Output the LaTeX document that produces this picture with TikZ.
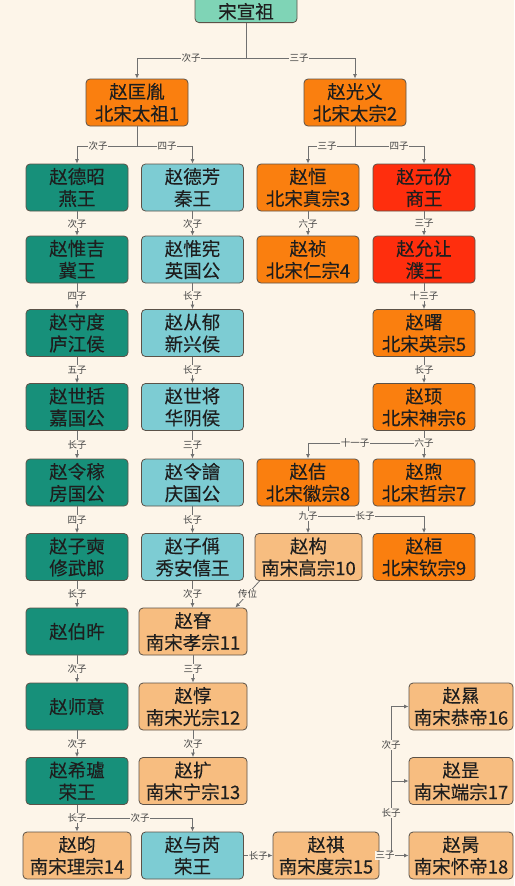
\documentclass[tikz,border=0pt]{standalone}
\usepackage{fontspec}
\newfontfamily\cjk{Noto Sans CJK SC}
\newfontfamily\cjkb[FakeBold=0.15]{Noto Sans CJK SC}
\usetikzlibrary{arrows.meta,calc}
\definecolor{bgc}{HTML}{FDF5E9}
\definecolor{mint}{HTML}{7FD4B6}
\definecolor{teal}{HTML}{17907A}
\definecolor{cyanl}{HTML}{7DCCD3}
\definecolor{orng}{HTML}{FA7F0F}
\definecolor{redd}{HTML}{FF2E0D}
\definecolor{peach}{HTML}{F7BD80}
\definecolor{bordc}{HTML}{5C5248}
\definecolor{txt}{HTML}{1E1E1E}
\definecolor{lnc}{HTML}{707070}
\definecolor{lblc}{HTML}{444444}
\tikzset{
  box/.style={draw=bordc, line width=0.8pt, rounded corners=4pt, minimum width=102pt,
    minimum height=47pt, inner sep=0pt, align=center, text=txt,
    font=\cjkb\fontsize{18.5}{22}\selectfont},
  wide/.style={minimum width=108pt},
  ln/.style={draw=lnc, line width=0.8pt},
  arr/.style={ln, -{Latex[length=4.5pt,width=4pt]}},
  lbl/.style={fill=bgc, inner sep=0.6pt, text=lblc, font=\cjk\fontsize{9.5}{11}\selectfont},
}
\begin{document}
\begin{tikzpicture}[x=1pt,y=-1pt]
\useasboundingbox (0,0) rectangle (514,886);
\fill[bgc] (0,0) rectangle (514,886);
% top
\node[box, fill=mint, anchor=south, text height=44pt, text depth=4pt] (sx) at (246,23) {宋宣祖};
% row 2
\node[box, fill=orng] (tz1) at (137,102.5) {赵匡胤\\北宋太祖1};
\node[box, fill=orng] (tz2) at (355,102.5) {赵光义\\北宋太宗2};
% row 3
\node[box, fill=teal] (dz) at (77,187.5) {赵德昭\\燕王};
\node[box, fill=cyanl] (df) at (192.5,187.5) {赵德芳\\秦王};
\node[box, fill=orng] (hg) at (308,187.5) {赵恒\\北宋真宗3};
\node[box, fill=redd] (yf) at (424,187.5) {赵元份\\商王};
% row 4
\node[box, fill=teal] (wj) at (77,259.5) {赵惟吉\\冀王};
\node[box, fill=cyanl] (wx) at (192.5,259.5) {赵惟宪\\英国公};
\node[box, fill=orng] (zz) at (308,259.5) {赵祯\\北宋仁宗4};
\node[box, fill=redd] (yr) at (424,259.5) {赵允让\\濮王};
% row 5
\node[box, fill=teal] (sd) at (77,333) {赵守度\\庐江侯};
\node[box, fill=cyanl] (cy) at (192.5,333) {赵从郁\\新兴侯};
\node[box, fill=orng] (sh) at (424,333) {赵曙\\北宋英宗5};
% row 6
\node[box, fill=teal] (sk) at (77,407) {赵世括\\嘉国公};
\node[box, fill=cyanl] (sj) at (192.5,407) {赵世将\\华阴侯};
\node[box, fill=orng] (zx) at (424,407) {赵顼\\北宋神宗6};
% row 7
\node[box, fill=teal] (lj) at (77,482.5) {赵令稼\\房国公};
\node[box, fill=cyanl] (lh) at (192.5,482.5) {赵令譮\\庆国公};
\node[box, fill=orng] (zj) at (308,482.5) {赵佶\\北宋徽宗8};
\node[box, fill=orng] (zh) at (424,482.5) {赵煦\\北宋哲宗7};
% row 8
\node[box, fill=teal] (zs) at (77,557) {赵子奭\\修武郎};
\node[box, fill=cyanl] (zc) at (192.5,557) {赵子偁\\秀安僖王};
\node[box, fill=peach, minimum width=107pt] (gz) at (308.5,557) {赵构\\南宋高宗10};
\node[box, fill=orng] (hz) at (424,557) {赵桓\\北宋钦宗9};
% row 9
\node[box, fill=teal] (by) at (77,631.5) {赵伯旿};
\node[box, fill=peach, wide] (sz) at (193,631.5) {赵眘\\南宋孝宗11};
% row 10
\node[box, fill=teal] (sy) at (77,706.5) {赵师意};
\node[box, fill=peach, wide] (dn) at (193,706.5) {赵惇\\南宋光宗12};
\node[box, fill=peach, minimum width=104pt] (xn) at (461,706.5) {赵㬎\\南宋恭帝16};
% row 11
\node[box, fill=teal] (xl) at (77,781) {赵希瓐\\荣王};
\node[box, fill=peach, wide] (kz) at (193,781) {赵扩\\南宋宁宗13};
\node[box, fill=peach, minimum width=104pt] (ss) at (461,781) {赵昰\\南宋端宗17};
% row 12
\node[box, fill=peach, wide] (yn) at (77,855.5) {赵昀\\南宋理宗14};
\node[box, fill=cyanl] (yr2) at (192.5,855.5) {赵与芮\\荣王};
\node[box, fill=peach, minimum width=106pt] (qz) at (326,855.5) {赵祺\\南宋度宗15};
\node[box, fill=peach, minimum width=104pt] (bz) at (461,855.5) {赵昺\\南宋怀帝18};

% top branches
\draw[ln] (sx.south) -- ++(0,35) coordinate (j0);
\draw[arr] (j0) -| (tz1.north);
\draw[arr] (j0) -| (tz2.north);
\node[lbl] (l01) at (191,58) {次子};
\node[lbl] (l02) at (299,58) {三子};

\draw[ln] (tz1.south) -- ++(0,20) coordinate (j1);
\draw[arr] (j1) -| (dz.north);
\draw[arr] (j1) -| (df.north);
\node[lbl] (l03) at (98,146) {次子};
\node[lbl] (l04) at (167,146) {四子};

\draw[ln] (tz2.south) -- ++(0,20) coordinate (j2);
\draw[arr] (j2) -| (hg.north);
\draw[arr] (j2) -| (yf.north);
\node[lbl] (l05) at (327,146) {三子};
\node[lbl] (l06) at (399,146) {四子};

% column 1
\draw[arr] (dz.south) -- node[lbl] (c11) {次子} (wj.north);
\draw[arr] (wj.south) -- node[lbl] (c12) {四子} (sd.north);
\draw[arr] (sd.south) -- node[lbl] (c13) {五子} (sk.north);
\draw[arr] (sk.south) -- node[lbl] (c14) {长子} (lj.north);
\draw[arr] (lj.south) -- node[lbl] (c15) {四子} (zs.north);
\draw[arr] (zs.south) -- node[lbl] (c16) {长子} (by.north);
\draw[arr] (by.south) -- node[lbl] (c17) {次子} (sy.north);
\draw[arr] (sy.south) -- node[lbl] (c18) {次子} (xl.north);
% column 2
\draw[arr] (df.south) -- node[lbl] (c21) {次子} (wx.north);
\draw[arr] (wx.south) -- node[lbl] (c22) {长子} (cy.north);
\draw[arr] (cy.south) -- node[lbl] (c23) {长子} (sj.north);
\draw[arr] (sj.south) -- node[lbl] (c24) {三子} (lh.north);
\draw[arr] (lh.south) -- node[lbl] (c25) {长子} (zc.north);
\draw[arr] (zc.south) -- node[lbl] (c26) {次子} (zc.south |- sz.north);
\draw[arr] (sz.south) -- node[lbl] (c27) {三子} (dn.north);
\draw[arr] (dn.south) -- node[lbl] (c28) {次子} (kz.north);
% column 3 / 4
\draw[arr] (hg.south) -- node[lbl] (c31) {六子} (zz.north);
\draw[arr] (yf.south) -- node[lbl] (c41) {三子} (yr.north);
\draw[arr] (yr.south) -- node[lbl] (c42) {十三子} (sh.north);
\draw[arr] (sh.south) -- node[lbl] (c43) {长子} (zx.north);

\draw[ln] (zx.south) -- ++(0,12.5) coordinate (j5);
\draw[arr] (j5) -| (zj.north);
\draw[arr] (j5) -- (zh.north);
\node[lbl] (l07) at (355,443) {十一子};
\node[lbl] (l08) at (424,443) {六子};

\draw[ln] (zj.south) -- ++(0,10) coordinate (j6);
\draw[arr] (j6) -- (j6 |- gz.north);
\draw[arr] (j6) -| (hz.north);
\node[lbl] (l09) at (308,516) {九子};
\node[lbl] (l10) at (365,516) {长子};

\draw[arr] ([xshift=5pt]gz.south west) -- node[lbl] (l11) {传位} ([xshift=-12pt]sz.north east);

% bottom
\draw[ln] (xl.south) -- ++(0,13.5) coordinate (j7);
\draw[arr] (j7) -- (yn.north);
\draw[arr] (j7) -| (yr2.north);
\node[lbl] (l12) at (77,818) {长子};
\node[lbl] (l13) at (140,818) {次子};

\draw[arr] (yr2.east) -- node[lbl] (l14) {长子} (qz.west);
\draw[arr] (qz.east) -- (bz.west);
\coordinate (j9) at (391,855.5);
\draw[arr] (j9) |- (ss.west);
\draw[arr] (j9) |- (xn.west);
\node[lbl] (l15) at (385,855.5) {三子};
\node[lbl] (l16) at (391,745) {次子};
\node[lbl] (l17) at (391,813) {长子};
\end{tikzpicture}
\end{document}
